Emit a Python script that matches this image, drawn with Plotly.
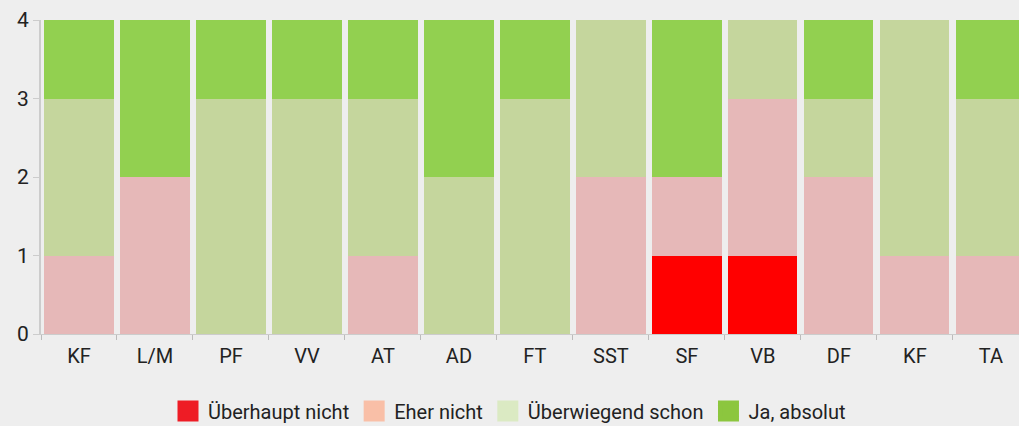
import plotly.graph_objects as go

categories = ["KF", "L/M", "PF", "VV", "AT", "AD", "FT", "SST", "SF", "VB", "DF", "KF", "TA"]
ueberhaupt_nicht = [0, 0, 0, 0, 0, 0, 0, 0, 1, 1, 0, 0, 0]
eher_nicht = [1, 2, 0, 0, 1, 0, 0, 2, 1, 2, 2, 1, 1]
ueberwiegend_schon = [2, 0, 3, 3, 2, 2, 3, 2, 0, 1, 1, 3, 2]
ja_absolut = [1, 2, 1, 1, 1, 2, 1, 0, 2, 0, 1, 0, 1]

series = [
    ("Überhaupt nicht", ueberhaupt_nicht, "#ff0000", "#ee1c25"),
    ("Eher nicht", eher_nicht, "#e6b8b8", "#f9bfa7"),
    ("Überwiegend schon", ueberwiegend_schon, "#c5d69d", "#dbeac3"),
    ("Ja, absolut", ja_absolut, "#92d050", "#8cc63e"),
]

FONT = "Liberation Sans Narrow, Roboto, sans-serif"
x = list(range(len(categories)))

fig = go.Figure()
for name, vals, bar_col, leg_col in series:
    fig.add_trace(go.Bar(x=x, y=vals, name=name, marker=dict(color=bar_col, line=dict(width=0)),
                         showlegend=False))
for name, vals, bar_col, leg_col in series:
    fig.add_trace(go.Scatter(x=[None], y=[None], mode="markers", name=name,
                             marker=dict(symbol="square", size=16, color=leg_col,
                                         line=dict(color=leg_col, width=5))))

fig.update_layout(
    barmode="stack",
    bargap=0.09,
    width=1019, height=426,
    margin=dict(l=41, r=0, t=20, b=92),
    paper_bgcolor="#eeeeee", plot_bgcolor="#eeeeee",
    font=dict(family=FONT, color="#222222", size=18),
    legend=dict(orientation="h", xref="container", yref="container", x=0.5, xanchor="center",
                y=0.035, yanchor="middle", font=dict(size=20, color="#222222"),
                itemsizing="trace", traceorder="normal", tracegroupgap=0),
    xaxis=dict(range=[-0.5, 12.37], tickmode="array", tickvals=x, ticktext=categories,
               ticks="", showgrid=False, zeroline=False, showline=True, linecolor="#cccccc",
               linewidth=1, tickfont=dict(size=20), ticklabelstandoff=4,
               minor=dict(tickmode="array", tickvals=[i - 0.5 for i in range(len(categories) + 1)],
                          ticks="outside", ticklen=5, tickcolor="#bbbbbb", tickwidth=1, showgrid=False)),
    yaxis=dict(range=[0, 4], tickmode="linear", tick0=0, dtick=1, ticks="outside", ticklen=6,
               tickcolor="#cccccc", showgrid=False, zeroline=False, showline=True,
               linecolor="#cccccc", linewidth=2, tickfont=dict(size=21)),
)

fig.write_html("out.html", config={"displayModeBar": False},
               post_script="document.body.style.margin='0';")
